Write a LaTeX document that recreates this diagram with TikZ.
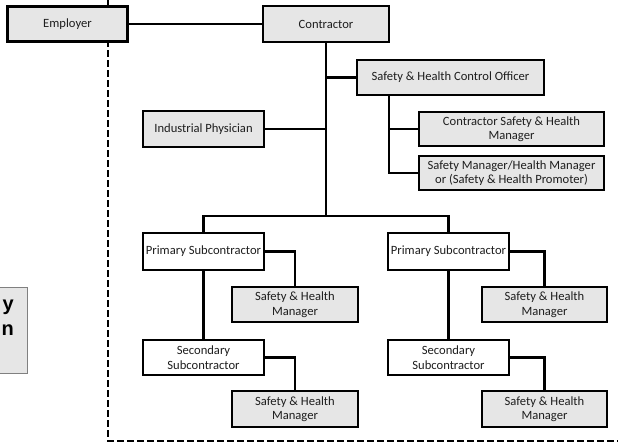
\documentclass[tikz,border=0pt]{standalone}
\usepackage{fontspec}
\setmainfont{Carlito}
\newfontfamily\boldsans{Liberation Sans}
\usetikzlibrary{shadows}
\definecolor{boxgray}{HTML}{E6E6E6}
\definecolor{txt}{HTML}{1E1E1E}
\tikzset{
  x=1pt, y=-1pt,
  base/.style={draw=black, line width=2.1pt, inner sep=0pt, align=center,
    text=txt, font=\fontsize{12.6}{14.5}\selectfont},
  graybox/.style={base, fill=boxgray,
    general shadow={fill=black, shadow xshift=1pt, shadow yshift=-1pt}},
  whitebox/.style={base, fill=white},
  link/.style={line width=2.1pt},
  border/.style={line width=2.1pt, dash pattern=on 7pt off 3pt},
  sidetext/.style={anchor=east, inner sep=0pt, text=black,
    font=\boldsans\bfseries\fontsize{20}{23}\selectfont},
}
\begin{document}
\begin{tikzpicture}
\useasboundingbox (0,0) rectangle (618,445);

% partly visible side panel at the left edge
\filldraw[fill=boxgray, draw=gray, line width=1pt] (-10,287) rectangle (27,373);
\node[sidetext] (py) at (14,307) {y};
\node[sidetext] (pn) at (14,330) {n};

% dashed boundary of the contractor's side
\draw[border] (108,0) -- (108,441) -- (618,441);

% boxes
\node[graybox, minimum width=120, minimum height=35] (emp) at (67.5,24) {Employer};
\node[graybox, minimum width=126, minimum height=36] (con) at (326,24) {Contractor};
\node[graybox, minimum width=187, minimum height=35] (shco) at (450.5,77.5) {Safety \& Health Control Officer};
\node[graybox, minimum width=185, minimum height=34] (cshm) at (511.5,129) {Contractor Safety \& Health\\Manager};
\node[graybox, minimum width=185, minimum height=34] (smhm) at (511.5,173) {Safety Manager/Health Manager\\or (Safety \& Health Promoter)};
\node[graybox, minimum width=121, minimum height=36] (ip) at (203.5,129) {Industrial Physician};

\node[whitebox, minimum width=121, minimum height=37] (ps1) at (203.5,251.5) {Primary Subcontractor};
\node[whitebox, minimum width=121, minimum height=37] (ps2) at (448.5,251.5) {Primary Subcontractor};
\node[graybox, minimum width=126, minimum height=35] (shm1) at (295,304.5) {Safety \& Health\\Manager};
\node[graybox, minimum width=125, minimum height=35] (shm2) at (544.5,304.5) {Safety \& Health\\Manager};
\node[whitebox, minimum width=121, minimum height=35] (ss1) at (203.5,357.5) {Secondary\\Subcontractor};
\node[whitebox, minimum width=121, minimum height=35] (ss2) at (448.5,357.5) {Secondary\\Subcontractor};
\node[graybox, minimum width=126, minimum height=36] (shm3) at (295,409) {Safety \& Health\\Manager};
\node[graybox, minimum width=125, minimum height=36] (shm4) at (544.5,409) {Safety \& Health\\Manager};

% connectors
\coordinate (hub) at (326,216);
\coordinate (sb) at (389,95.5);
\draw[link] (emp.east) -- (con.west);
\draw[link] (con.south) -- (hub);
\draw[link] (shco.west) -- (shco.west -| con.south);
\draw[link] (ip.east) -- (ip.east -| con.south);
\draw[link] (sb) |- (cshm.west);
\draw[link] (sb) |- (smhm.west);
\draw[link] (ps1.north) |- (hub) -| (ps2.north);
\draw[link] (ps1.east) -| (shm1.north);
\draw[link] (ps2.east) -| (shm2.north);
\draw[link] (ps1.south) -- (ss1.north);
\draw[link] (ps2.south) -- (ss2.north);
\draw[link] (ss1.east) -| (shm3.north);
\draw[link] (ss2.east) -| (shm4.north);
\end{tikzpicture}
\end{document}
